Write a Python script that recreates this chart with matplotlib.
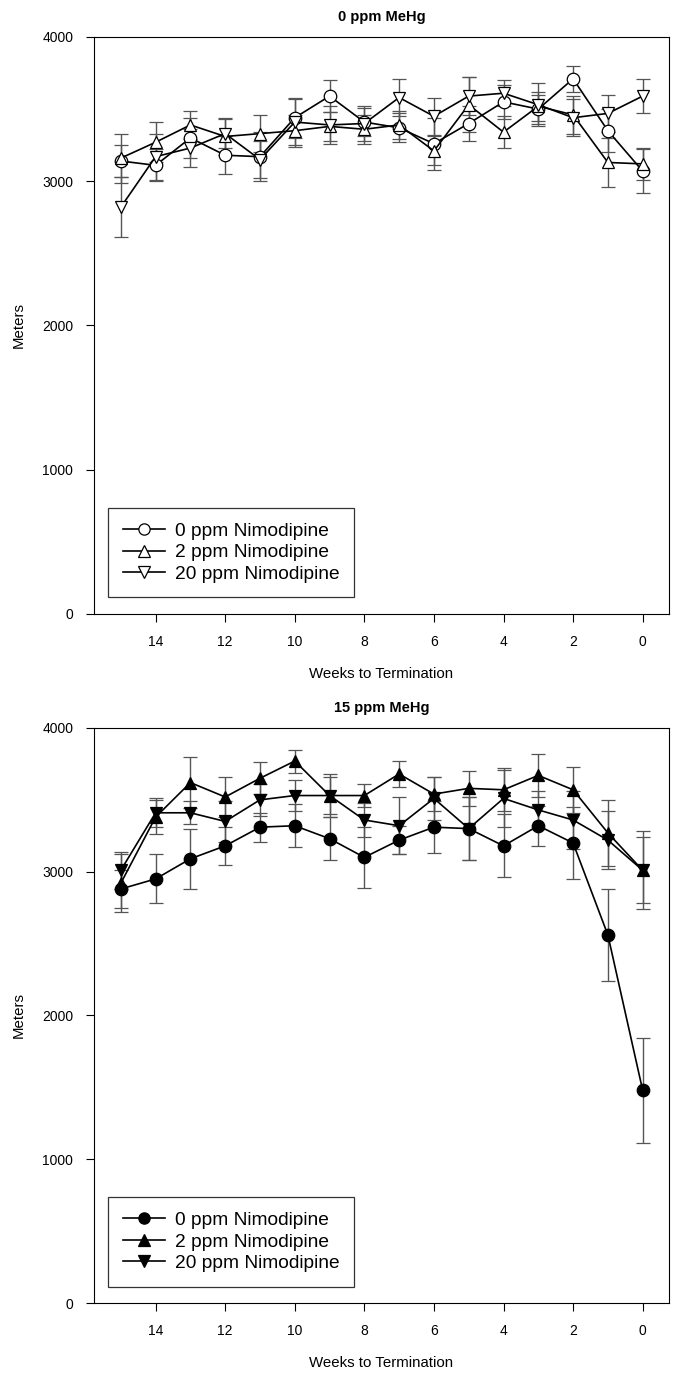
import matplotlib
matplotlib.use("Agg")
import matplotlib.pyplot as plt

plt.rcParams['font.family'] = ['Liberation Sans', 'DejaVu Sans']

weeks = [15, 14, 13, 12, 11, 10, 9, 8, 7, 6, 5, 4, 3, 2, 1, 0]
labels = ['0 ppm Nimodipine', '2 ppm Nimodipine', '20 ppm Nimodipine']
titles = ['0 ppm MeHg', '15 ppm MeHg']

# 0 ppm MeHg panel
top_0 = [3140, 3110, 3300, 3180, 3170, 3440, 3590, 3410, 3370, 3260, 3400, 3550, 3500, 3710, 3350, 3070]
top_0_err = [110, 110, 140, 130, 170, 140, 110, 100, 100, 180, 120, 120, 100, 90, 150, 150]
top_2 = [3160, 3270, 3390, 3310, 3330, 3350, 3380, 3360, 3390, 3210, 3530, 3340, 3520, 3460, 3130, 3120]
top_2_err = [170, 140, 100, 130, 130, 110, 100, 100, 100, 100, 190, 110, 100, 130, 170, 110]
top_20 = [2820, 3170, 3230, 3330, 3150, 3410, 3390, 3400, 3580, 3450, 3590, 3610, 3530, 3440, 3470, 3590]
top_20_err = [210, 160, 130, 100, 130, 160, 130, 120, 130, 130, 130, 90, 150, 130, 130, 120]

# 15 ppm MeHg panel
bot_0 = [2880, 2950, 3090, 3180, 3310, 3320, 3230, 3100, 3220, 3310, 3300, 3180, 3320, 3200, 2560, 1480]
bot_0_err = [130, 170, 210, 130, 100, 150, 150, 210, 100, 180, 220, 220, 140, 250, 320, 365]
bot_2 = [2920, 3380, 3620, 3520, 3650, 3770, 3530, 3530, 3680, 3540, 3580, 3570, 3670, 3570, 3270, 3010]
bot_2_err = [200, 120, 180, 140, 110, 80, 150, 80, 90, 120, 120, 150, 150, 160, 230, 270]
bot_20 = [3010, 3410, 3410, 3350, 3500, 3530, 3530, 3360, 3320, 3510, 3300, 3510, 3430, 3360, 3220, 3010]
bot_20_err = [130, 100, 80, 140, 110, 110, 130, 120, 200, 150, 220, 200, 130, 200, 200, 230]

markers = ['o', '^', 'v']

fig = plt.figure(figsize=(6.73, 13.79), dpi=100)
ax1 = fig.add_axes([0.1397, 0.5548, 0.854, 0.4184])
ax2 = fig.add_axes([0.1397, 0.0551, 0.854, 0.4170])

panels = [
    (ax1, [top_0, top_2, top_20], [top_0_err, top_2_err, top_20_err], 'white'),
    (ax2, [bot_0, bot_2, bot_20], [bot_0_err, bot_2_err, bot_20_err], 'black'),
]

for i, (ax, series, errs, face) in enumerate(panels):
    for vals, err, mk, lab in zip(series, errs, markers, labels):
        ax.errorbar(weeks, vals, yerr=err, color='black', ecolor='#555555',
                    elinewidth=1, capsize=5, capthick=1, lw=1.2,
                    marker=mk, markersize=9, markerfacecolor=face,
                    markeredgecolor='black', markeredgewidth=0.9, label=lab)
    ax.set_xlim(15.77, -0.75)
    ax.set_ylim(0, 4000)
    ax.set_xticks([14, 12, 10, 8, 6, 4, 2, 0])
    ax.set_yticks([0, 1000, 2000, 3000, 4000])
    ax.tick_params(direction='out', length=6, labelsize=10, pad=9)
    ax.set_xlabel('Weeks to Termination', fontsize=10.8, labelpad=13)
    ax.set_ylabel('Meters', fontsize=10.8, labelpad=12)
    ax.set_title(titles[i], fontsize=10.5, fontweight='bold', pad=11.5)
    handles, labs = ax.get_legend_handles_labels()
    handles = [h[0] for h in handles]
    leg = ax.legend(handles, labs, loc='lower left', bbox_to_anchor=(0.008, 0.012),
                    fontsize=13.8, frameon=True, fancybox=False, edgecolor='black',
                    handlelength=2.2, handletextpad=0.55, borderpad=0.75,
                    labelspacing=0.22, markerscale=0.9)
    leg.get_frame().set_linewidth(0.9)

fig.savefig('out.png', dpi=100)
